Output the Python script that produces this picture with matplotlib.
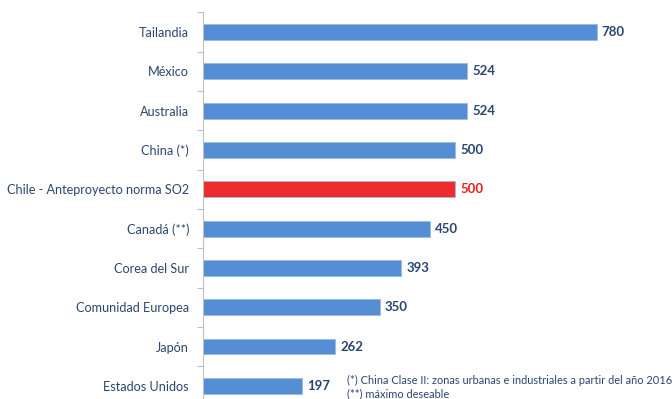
import matplotlib
matplotlib.use('Agg')
import matplotlib.pyplot as plt
import numpy as np

# SO2 norms, top to bottom as in the chart
countries = ['Tailandia', 'México', 'Australia', 'China (*)',
             'Chile - Anteproyecto norma SO2', 'Canadá (**)', 'Corea del Sur',
             'Comunidad Europea', 'Japón', 'Estados Unidos']
values = [780, 524, 524, 500, 500, 450, 393, 350, 262, 197]
highlight = 'Chile - Anteproyecto norma SO2'
notes = ['(*) China Clase II: zonas urbanas e industriales a partir del año 2016',
         '(**) máximo deseable']

plt.rcParams['font.family'] = ['Lato', 'DejaVu Sans']
blue = '#558ED5'
red = '#EE2C2C'
txt = '#2A466E'

fig = plt.figure(figsize=(6.72, 3.99), dpi=100)
ax = fig.add_axes([0.302, -0.0165, 0.691, 0.9855])

y = np.arange(len(countries))
colors = [red if c == highlight else blue for c in countries]
ax.barh(y, values, height=0.4, color=colors, edgecolor='#9DBBE3', linewidth=0.6)
ax.set_ylim(len(countries) - 0.5, -0.5)
ax.set_xlim(0, 920)

ax.set_yticks(y)
ax.set_yticklabels(countries, fontsize=9.1, color=txt)
ax.tick_params(axis='y', which='major', length=0, pad=10)
ax.set_yticks(np.arange(-0.5, len(countries), 1), minor=True)
ax.tick_params(axis='y', which='minor', length=4, color='#BFBFBF', width=0.8)

for sp in ['top', 'right', 'bottom']:
    ax.spines[sp].set_visible(False)
ax.spines['left'].set_color('#BFBFBF')
ax.spines['left'].set_linewidth(0.8)
ax.set_xticks([])

for yi, v, c in zip(y, values, countries):
    ax.text(v + 10, yi, str(v), va='center', ha='left', fontsize=9.5,
            fontweight='bold', color='#EE1C1C' if c == highlight else txt)

fig.text(347 / 672, 1 - 380 / 399, notes[0], fontsize=7.9, color=txt, va='center')
fig.text(347 / 672, 1 - 394 / 399, notes[1], fontsize=7.9, color=txt, va='center')

fig.savefig('out.png', dpi=100)
